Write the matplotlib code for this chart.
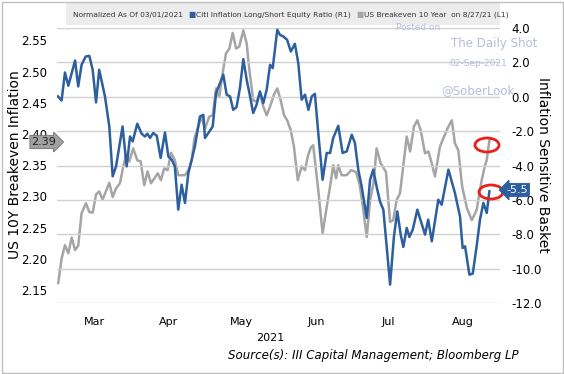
import numpy as np
import matplotlib
matplotlib.use("Agg")
import matplotlib.pyplot as plt
from matplotlib.patches import Ellipse, Rectangle
import pandas as pd

# days after 2021-03-01
blue_days = [0, 1.5, 2.9, 4.3, 7.1, 8.4, 9.8, 11.5, 13.0, 14.4, 15.8, 17.1, 19.5, 21.3, 22.7,
             24.1, 26.8, 28.5, 29.9, 31.0, 32.9, 34.7, 36.1, 37.1, 38.2, 39.5, 41.0, 42.6, 44.4,
             45.8, 47.2, 48.5, 49.9, 51.3, 52.7, 54.1, 55.5, 56.8, 58.9, 60.3, 61.0, 62.4, 64.2,
             65.6, 68.6, 70.0, 71.4, 72.7, 74.1, 75.5, 76.9, 78.3, 79.7, 81.0, 82.4, 83.8, 85.2,
             86.6, 88.0, 89.1, 91.0, 92.1, 93.5, 95.1, 96.6, 98.3, 99.7, 101.1, 102.5, 103.9,
             105.3, 106.6, 108.0, 109.8, 111.5, 112.9, 114.2, 116.3, 118.1, 119.8, 121.9, 123.2,
             124.6, 126.0, 128.1, 129.5, 130.8, 132.2, 133.6, 135.0, 137.8, 139.4, 140.8, 142.2,
             143.3, 144.7, 145.8, 147.2, 149.1, 150.6, 152.3, 153.6, 155.1, 156.4, 157.8, 159.2,
             162.0, 164.7, 166.8, 167.9, 168.9, 170.7, 172.1, 173.7, 175.1, 176.5, 177.9, 179.0]
blue_vals = [0.02, -0.22, 1.41, 0.64, 2.11, 0.60, 1.86, 2.34, 2.38, 1.57, -0.33, 1.57, 0.02,
             -1.73, -4.63, -4.05, -1.73, -4.05, -2.31, -2.60, -1.57, -2.15, -2.31, -2.15, -2.40,
             -2.11, -2.27, -3.56, -2.08, -3.47, -3.66, -4.05, -6.57, -5.12, -6.18, -4.44, -3.66,
             -2.89, -1.15, -1.05, -2.40, -2.11, -1.73, 0.22, 1.28, 0.12, 0.02, -0.76, -0.60, 0.51,
             2.19, 0.99, 0.02, -0.95, -0.47, 0.31, -0.37, 0.41, 1.86, 1.67, 3.90, 3.60, 3.51, 3.31,
             2.63, 3.08, 1.96, -0.17, 0.12, -0.76, 0.02, 0.17, -2.11, -4.83, -3.27, -3.27, -2.40,
             -1.69, -3.27, -3.18, -2.21, -2.69, -4.24, -5.22, -7.05, -4.83, -4.24, -5.22, -6.09,
             -6.57, -10.93, -8.12, -6.67, -8.02, -8.74, -7.63, -8.16, -7.73, -6.57, -7.25, -8.02,
             -7.15, -8.41, -7.25, -5.99, -6.28, -4.24, -5.60, -6.96, -8.80, -8.70, -10.35, -10.29,
             -8.70, -7.15, -6.18, -6.76, -5.5]

gray_days = [0.1, 1.5, 2.9, 4.3, 5.7, 7.1, 8.4, 9.8, 11.6, 13.0, 14.4, 15.8, 17.1, 18.5, 19.9,
             21.3, 22.7, 24.1, 25.7, 27.1, 28.2, 29.6, 31.2, 32.9, 34.3, 35.8, 37.2, 38.6, 40.0,
             41.4, 42.7, 44.1, 45.5, 46.9, 48.5, 49.9, 51.3, 52.7, 54.1, 55.5, 56.6, 58.2, 59.6,
             61.0, 62.8, 64.2, 65.6, 66.9, 68.3, 69.7, 71.1, 72.5, 73.9, 75.2, 76.9, 78.3, 79.4,
             81.0, 82.4, 83.8, 85.2, 86.6, 88.0, 89.6, 91.0, 92.4, 93.8, 95.1, 96.6, 97.9, 99.5,
             101.1, 102.5, 103.7, 105.0, 105.9, 108.0, 109.8, 111.5, 112.9, 114.2, 115.4, 116.3,
             117.7, 119.8, 121.6, 123.7, 125.2, 126.7, 128.1, 129.5, 130.9, 132.2, 133.9, 136.1,
             137.8, 139.1, 140.5, 141.9, 143.3, 144.7, 146.1, 147.7, 149.1, 150.5, 152.3, 153.7,
             155.1, 156.4, 158.5, 160.2, 162.0, 163.4, 164.7, 166.1, 167.7, 169.7, 171.7, 173.7,
             175.8, 177.2, 177.9, 179.0]
gray_vals = [2.161, 2.200, 2.222, 2.209, 2.234, 2.214, 2.221, 2.273, 2.289, 2.275, 2.274, 2.303,
             2.308, 2.295, 2.308, 2.322, 2.299, 2.313, 2.321, 2.348, 2.366, 2.356, 2.377, 2.358,
             2.356, 2.318, 2.340, 2.321, 2.329, 2.337, 2.326, 2.345, 2.342, 2.370, 2.358, 2.334,
             2.334, 2.334, 2.342, 2.358, 2.393, 2.412, 2.428, 2.409, 2.428, 2.430, 2.473, 2.459,
             2.497, 2.529, 2.537, 2.562, 2.537, 2.540, 2.566, 2.545, 2.503, 2.454, 2.452, 2.465,
             2.444, 2.430, 2.444, 2.463, 2.473, 2.454, 2.430, 2.422, 2.406, 2.380, 2.326, 2.348,
             2.342, 2.365, 2.379, 2.382, 2.310, 2.241, 2.283, 2.316, 2.350, 2.329, 2.350, 2.334,
             2.334, 2.342, 2.339, 2.318, 2.278, 2.235, 2.294, 2.321, 2.377, 2.353, 2.339, 2.259,
             2.262, 2.294, 2.305, 2.350, 2.396, 2.372, 2.412, 2.422, 2.406, 2.369, 2.372, 2.353,
             2.332, 2.380, 2.396, 2.412, 2.422, 2.385, 2.374, 2.316, 2.281, 2.262, 2.278, 2.326,
             2.350, 2.358, 2.39]

months = ["Mar", "Apr", "May", "Jun", "Jul", "Aug"]
left_ticks = [2.15, 2.20, 2.25, 2.30, 2.35, 2.40, 2.45, 2.50, 2.55]
right_ticks = [-12, -10, -8, -6, -4, -2, 0, 2, 4]
legend_items = [("Normalized As Of 03/01/2021", None),
                ("Citi Inflation Long/Short Equity Ratio (R1)", "#2d5f9f"),
                ("US Breakeven 10 Year  on 8/27/21 (L1)", "#a5a5a5")]

BLUE = "#2d5f9f"
GRAY = "#a5a5a5"
WM = "#b4bddf"

start = pd.Timestamp("2021-03-01")
blue_x = start + pd.to_timedelta(blue_days, unit="D")
gray_x = start + pd.to_timedelta(gray_days, unit="D")

W, H = 564, 374
fig = plt.figure(figsize=(W / 100, H / 100), dpi=100)


def fx(x):
    return x / W


def fy(y):
    return 1 - y / H


axl = fig.add_axes([fx(57), fy(303), fx(500) - fx(57), fy(28) - fy(303)])
axr = axl.twinx()

axl.plot(gray_x, gray_vals, color=GRAY, lw=1.8)
axr.plot(blue_x, blue_vals, color=BLUE, lw=1.8)

axl.set_xlim(start - pd.Timedelta(days=0.4), start + pd.Timedelta(days=183.4))
axl.set_ylim(2.15 - 13 / 624, 2.15 + 262 / 624)
axr.set_ylim(-12, 4)

axl.set_yticks(left_ticks)
axl.set_yticklabels(["%.2f" % t for t in left_ticks], fontsize=8.5)
axr.set_yticks(right_ticks)
axr.set_yticklabels(["%.1f" % t for t in right_ticks], fontsize=8.5)
axr.grid(True, axis="y", color="#d0d0d0", lw=1)
axl.tick_params(axis="y", length=0, pad=7)
axr.tick_params(axis="y", length=0, pad=8)

tick_pos = [pd.Timestamp("2021-%02d-16" % m) for m in range(3, 9)]
axl.set_xticks(tick_pos)
axl.set_xticklabels(months, fontsize=8)
axl.tick_params(axis="x", length=0, pad=10)

for ax in (axl, axr):
    for s in ax.spines.values():
        s.set_visible(False)
axr.set_zorder(axl.get_zorder() + 1)
axl.patch.set_visible(False)

fig.text(fx(15), fy(165), "US 10Y Breakeven Inflation", fontsize=10, rotation=90,
         ha="center", va="center")
fig.text(fx(543), fy(165), "Inflation Sensitive Basket", fontsize=10, rotation=-90,
         ha="center", va="center")

fig.text(fx(270), fy(338), "2021", fontsize=8, ha="center", va="center")
fig.text(fx(519), fy(355), "Source(s): III Capital Management; Bloomberg LP", fontsize=8.5,
         style="italic", ha="right", va="center")

# legend strip, laid out left to right from measured widths
fig.patches.append(Rectangle((fx(66), fy(25)), fx(500) - fx(66), fy(3) - fy(25),
                             transform=fig.transFigure, facecolor="#ececec", edgecolor="none"))
renderer = fig.canvas.get_renderer()
xpos = 73
for label, col in legend_items:
    if col is not None:
        m = fig.text(fx(xpos), fy(15), "\u25a0", color=col, fontsize=5.5, va="center")
        xpos += m.get_window_extent(renderer).width + 1
    t = fig.text(fx(xpos), fy(15), label, fontsize=5.4, va="center", color="#333333")
    xpos += t.get_window_extent(renderer).width + 5

# watermark
fig.text(fx(418), fy(27), "Posted on", fontsize=6.5, color=WM, ha="center", va="center")
fig.text(fx(494), fy(43), "The Daily Shot", fontsize=8.5, color=WM, ha="center", va="center")
fig.text(fx(478), fy(63), "02-Sep-2021", fontsize=6.5, color=WM, ha="center", va="center")
fig.text(fx(478), fy(91), "@SoberLook", fontsize=8.5, color=WM, ha="center", va="center")

# last-value tags
fig.text(fx(44), fy(142), "2.39", fontsize=8, ha="center", va="center", color="#222222",
         bbox=dict(boxstyle="rarrow,pad=0.15", fc="#a0a0a0", ec="#707070", lw=0.6))
fig.text(fx(517), fy(190), "-5.5", fontsize=8, ha="center", va="center", color="white",
         bbox=dict(boxstyle="larrow,pad=0.15", fc=BLUE, ec=BLUE, lw=0.6))

# red circles
for cx, cy in [(487, 145), (491, 192)]:
    fig.patches.append(Ellipse((fx(cx), fy(cy)), 24 / W, 14 / H, transform=fig.transFigure,
                               fill=False, edgecolor="#e8221b", lw=2))

# frame
fig.patches.append(Rectangle((fx(1.5), fy(372.5)), fx(561), fy(1.5) - fy(372.5),
                             transform=fig.transFigure, fill=False, edgecolor="#c0c0c0", lw=1))

fig.savefig("out.png", dpi=100)
